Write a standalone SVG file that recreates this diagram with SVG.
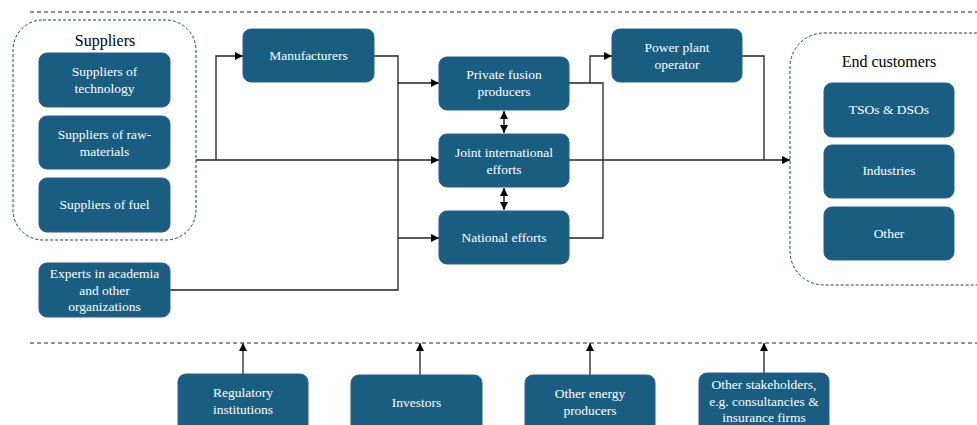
<svg xmlns="http://www.w3.org/2000/svg" width="977" height="425" viewBox="0 0 977 425">
<defs>
<marker id="ah" viewBox="0 0 10 10" refX="10" refY="5" markerWidth="8" markerHeight="8" markerUnits="userSpaceOnUse" orient="auto-start-reverse">
<path d="M0,0 L10,5 L0,10 z" fill="#000"/>
</marker>
<style>
.box{fill:#195e80;stroke:#2f5a96;stroke-width:1}
.t{font-family:"Liberation Serif","Times New Roman",serif;font-size:13.5px;fill:#fff;text-anchor:middle}
.title{font-family:"Liberation Serif","Times New Roman",serif;font-size:16px;fill:#000;text-anchor:middle}
.grp{fill:none;stroke:#1f3b5c;stroke-width:1;stroke-dasharray:3,2}
.sep{fill:none;stroke:#222;stroke-width:1;stroke-dasharray:4,3}
.c{fill:none;stroke:#222;stroke-width:1.3}
.a{fill:none;stroke:#222;stroke-width:1.3;marker-end:url(#ah)}
.d{fill:none;stroke:#000;stroke-width:1.3;marker-start:url(#ah);marker-end:url(#ah)}
</style>
</defs>
<line class="sep" x1="30" y1="12" x2="977" y2="12"/>
<line class="sep" x1="30" y1="343" x2="977" y2="343"/>

<g id="connectors">
<path class="c" d="M196,160 H398"/>
<path class="a" d="M216,160 V56 H243"/>
<path class="c" d="M374,56 H398 V290 H170"/>
<path class="a" d="M398,83 H439"/>
<path class="a" d="M398,160 H439"/>
<path class="a" d="M398,238 H439"/>
<path class="c" d="M569,83 H603 V238 H569"/>
<path class="a" d="M590,83 V56 H612"/>
<path class="a" d="M569,160 H790"/>
<path class="c" d="M742,56 H764 V160"/>
<path class="d" d="M504,111 V133"/>
<path class="d" d="M504,188 V210"/>
<path class="a" d="M243,374 V343"/>
<path class="a" d="M420,375 V343"/>
<path class="a" d="M590,375 V343"/>
<path class="a" d="M764,373 V343"/>
</g>

<g id="suppliers">
<rect class="grp" x="13" y="20" width="183" height="220" rx="30"/>
<text class="title" x="105" y="46">Suppliers</text>
</g>
<g id="sup-tech"><rect class="box" x="39" y="53" width="131" height="54" rx="8"/><text class="t" x="104.5" y="76">Suppliers of</text><text class="t" x="104.5" y="93">technology</text></g>
<g id="sup-raw"><rect class="box" x="39" y="116" width="131" height="53" rx="8"/><text class="t" x="104.5" y="139">Suppliers of raw-</text><text class="t" x="104.5" y="156">materials</text></g>
<g id="sup-fuel"><rect class="box" x="39" y="178" width="131" height="54" rx="8"/><text class="t" x="104.5" y="209">Suppliers of fuel</text></g>

<g id="experts"><rect class="box" x="39" y="263" width="131" height="54" rx="8"/><text class="t" x="104.5" y="278">Experts in academia</text><text class="t" x="104.5" y="295">and other</text><text class="t" x="104.5" y="311">organizations</text></g>

<g id="manufacturers"><rect class="box" x="243" y="29" width="131" height="53" rx="8"/><text class="t" x="308.5" y="60">Manufacturers</text></g>
<g id="private"><rect class="box" x="439" y="57" width="130" height="53" rx="8"/><text class="t" x="504" y="79">Private fusion</text><text class="t" x="504" y="96">producers</text></g>
<g id="joint"><rect class="box" x="439" y="134" width="130" height="53" rx="8"/><text class="t" x="504" y="157">Joint international</text><text class="t" x="504" y="174">efforts</text></g>
<g id="national"><rect class="box" x="439" y="211" width="130" height="53" rx="8"/><text class="t" x="504" y="242">National efforts</text></g>
<g id="powerplant"><rect class="box" x="612" y="29" width="130" height="53" rx="8"/><text class="t" x="677" y="52">Power plant</text><text class="t" x="677" y="69">operator</text></g>

<g id="endcustomers">
<rect class="grp" x="790" y="33" width="220" height="252" rx="34"/>
<text class="title" x="889" y="67">End customers</text>
</g>
<g id="tsos"><rect class="box" x="824" y="83" width="130" height="54" rx="8"/><text class="t" x="889" y="114">TSOs &amp; DSOs</text></g>
<g id="industries"><rect class="box" x="824" y="145" width="130" height="53" rx="8"/><text class="t" x="889" y="175">Industries</text></g>
<g id="other"><rect class="box" x="824" y="207" width="130" height="53" rx="8"/><text class="t" x="889" y="238">Other</text></g>

<g id="regulatory"><rect class="box" x="178" y="374" width="130" height="70" rx="8"/><text class="t" x="243" y="397">Regulatory</text><text class="t" x="243" y="414">institutions</text></g>
<g id="investors"><rect class="box" x="351" y="375" width="131" height="70" rx="8"/><text class="t" x="416.5" y="407">Investors</text></g>
<g id="otherenergy"><rect class="box" x="525" y="375" width="130" height="70" rx="8"/><text class="t" x="590" y="398">Other energy</text><text class="t" x="590" y="415">producers</text></g>
<g id="otherstake"><rect class="box" x="699" y="373" width="130" height="70" rx="8"/><text class="t" x="764" y="389">Other stakeholders,</text><text class="t" x="764" y="406">e.g. consultancies &amp;</text><text class="t" x="764" y="422">insurance firms</text></g>
</svg>
